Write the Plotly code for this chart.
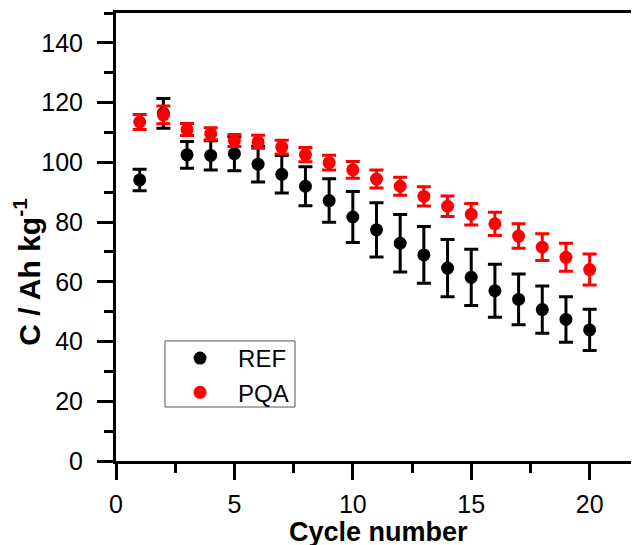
import plotly.graph_objects as go

cycles = list(range(1, 21))
ref_values = [94.1, 116.4, 102.5, 102.3, 102.9, 99.4, 96.0, 92.0, 87.2, 81.7,
              77.4, 72.9, 69.0, 64.6, 61.5, 57.0, 54.1, 50.7, 47.4, 43.9]
ref_errors = [3.6, 5.0, 4.5, 4.9, 5.7, 6.0, 6.3, 6.5, 7.3, 8.5,
              9.1, 9.6, 9.5, 9.6, 9.4, 8.9, 8.5, 7.9, 7.6, 6.9]
pqa_values = [113.5, 115.9, 111.0, 109.6, 107.3, 106.9, 105.1, 102.6, 99.9, 97.5,
              94.4, 92.0, 88.6, 85.3, 82.6, 79.4, 75.3, 71.6, 68.2, 64.1]
pqa_errors = [2.5, 3.0, 2.0, 2.0, 2.0, 2.2, 2.3, 2.4, 2.5, 2.8,
              3.0, 3.0, 3.2, 3.4, 3.6, 3.9, 4.1, 4.5, 4.7, 5.2]

x_ticks = [0, 5, 10, 15, 20]
y_ticks = [0, 20, 40, 60, 80, 100, 120, 140]

FONT = "Arial, Liberation Sans, sans-serif"

fig = go.Figure()
fig.add_trace(go.Scatter(
    x=cycles, y=ref_values, mode="markers", name="REF",
    marker=dict(color="black", size=13),
    error_y=dict(type="data", array=ref_errors, visible=True,
                 color="black", thickness=3, width=7),
))
fig.add_trace(go.Scatter(
    x=cycles, y=pqa_values, mode="markers", name="PQA",
    marker=dict(color="#ff0000", size=13),
    error_y=dict(type="data", array=pqa_errors, visible=True,
                 color="#ff0000", thickness=3, width=7),
))

axis_common = dict(
    showline=True, linecolor="black", linewidth=3,
    ticks="outside", tickwidth=3, tickcolor="black", ticklen=16,
    showgrid=False, zeroline=False, automargin=False,
    tickfont=dict(family=FONT, size=25, color="black"),
    minor=dict(ticks="outside", ticklen=9, tickwidth=3, tickcolor="black", showgrid=False),
)

fig.update_xaxes(
    range=[0, 22], tickvals=x_ticks, ticktext=[str(v) for v in x_ticks],
    minor_dtick=2.5, minor_tick0=0, mirror=True,
    ticklabelstandoff=3,
    **axis_common,
)
fig.update_yaxes(
    range=[0, 150], tickvals=y_ticks, ticktext=[str(v) for v in y_ticks],
    minor_dtick=10, minor_tick0=0, mirror=False,
    ticklabelstandoff=9,
    **axis_common,
)

fig.update_layout(
    width=631, height=537,
    margin=dict(l=108, r=2, t=5, b=84),
    paper_bgcolor="white", plot_bgcolor="white",
    showlegend=True,
    legend=dict(
        x=0.0884, y=0.2790, xanchor="left", yanchor="top",
        bgcolor="rgba(0,0,0,0)", borderwidth=0,
        font=dict(family=FONT, size=24, color="black"),
        itemwidth=66,
    ),
    shapes=[
        dict(type="rect", xref="paper", yref="paper",
             x0=0.094, x1=0.3436, y0=0.1205, y1=0.268,
             line=dict(color="#555555", width=1), fillcolor="rgba(0,0,0,0)"),
        dict(type="line", xref="paper", yref="paper",
             x0=1, x1=1, y0=0, y1=1,
             line=dict(color="black", width=2)),
    ],
    annotations=[
        dict(text="<b>C / Ah kg<sup>-1</sup></b>", textangle=-90,
             xref="paper", yref="paper", x=-0.1708, y=0.4225,
             xanchor="center", yanchor="middle", showarrow=False,
             font=dict(family=FONT, size=30, color="black")),
        dict(text="<b>Cycle number</b>",
             xref="paper", yref="paper", x=0.5038, y=-0.1578,
             xanchor="center", yanchor="middle", showarrow=False,
             font=dict(family=FONT, size=27, color="black")),
    ],
)

fig.write_html("out.html")
